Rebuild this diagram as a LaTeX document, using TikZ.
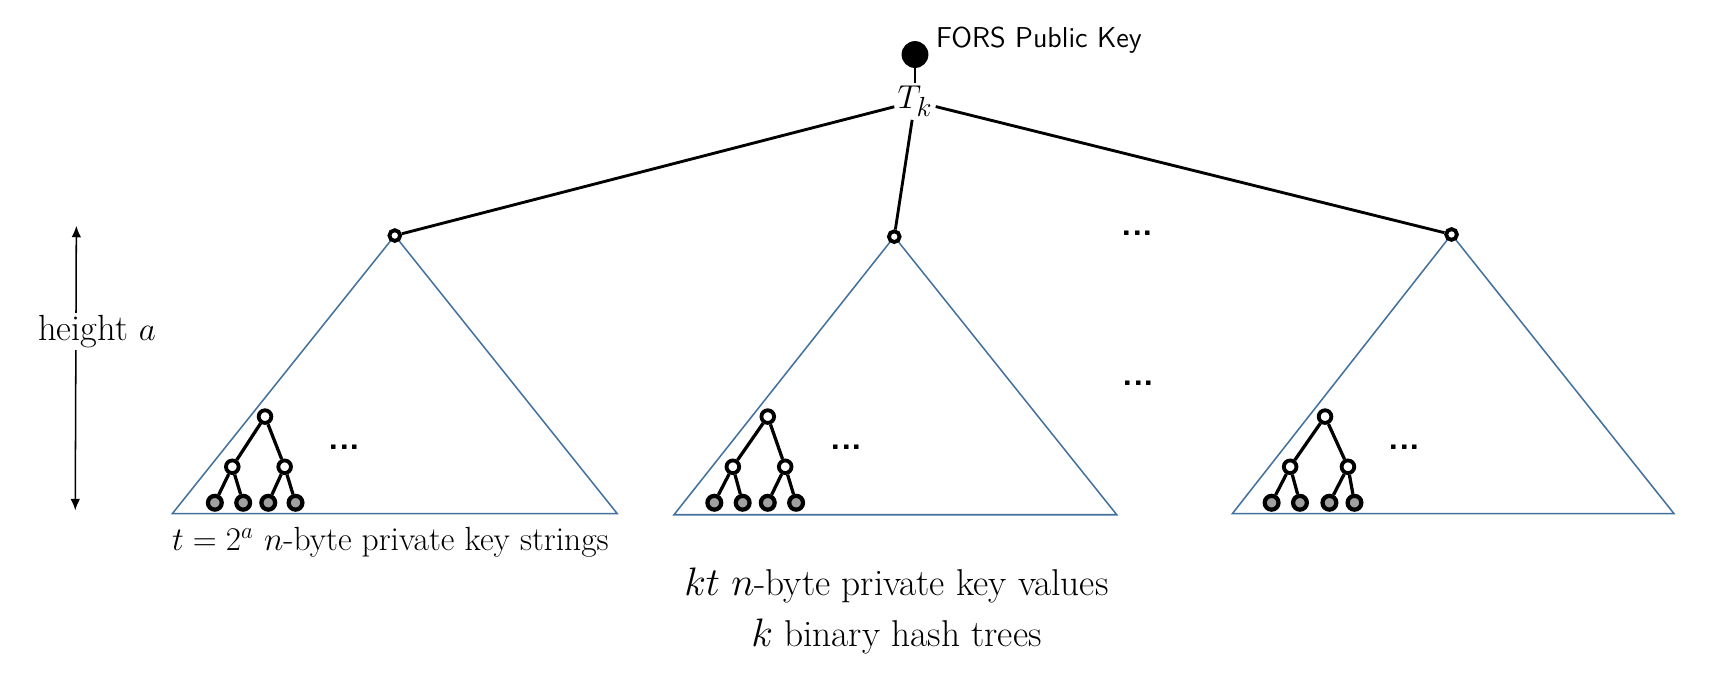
\documentclass[tikz,border=0pt]{standalone}
\usetikzlibrary{arrows.meta}
\definecolor{triblue}{RGB}{65,113,156}
\definecolor{leafgray}{RGB}{160,160,160}
\begin{document}
\begin{tikzpicture}[x=0.02cm,y=-0.02cm,
  tri/.style={draw=triblue, line width=0.8pt, line join=miter},
  edge/.style={line width=1.5pt},
  sedge/.style={line width=1.7pt},
  troot/.style={circle, draw, fill=white, line width=2pt, minimum size=5.6pt, inner sep=0pt},
  inode/.style={circle, draw, fill=white, line width=2pt, minimum size=6.6pt, inner sep=0pt},
  leaf/.style={circle, draw, fill=leafgray, line width=2.2pt, minimum size=7.2pt, inner sep=0pt},
  dots/.style={font=\fontsize{18}{20}\sffamily\bfseries, inner sep=0pt},
  txt/.style={inner sep=1pt},
]
\useasboundingbox (0,0) rectangle (1568,626);

% triangles
\draw[tri] (362,216) -- (158,471) -- (566,471) -- cycle;
\draw[tri] (820,217) -- (618,472) -- (1024,472) -- cycle;
\draw[tri] (1331,215) -- (1130,471) -- (1535,471) -- cycle;

% top
\node[circle, fill=black, minimum size=14pt, inner sep=0pt] (pk) at (839,50) {};
\node[anchor=west, font=\fontsize{15}{18}\sffamily, inner sep=0pt] (pkl) at (858,37) {FORS Public Key};
\node[fill=white, inner sep=1.5pt, font=\fontsize{19}{22}\selectfont] (Tk) at (839,93) {$T_k$};

\node[troot] (r1) at (362,216) {};
\node[troot] (r2) at (820,217) {};
\node[troot] (r3) at (1331,215) {};

\draw[edge] (pk) -- (Tk);
\draw[edge] (Tk) -- (r1);
\draw[edge] (Tk) -- (r2);
\draw[edge] (Tk) -- (r3);

% subtrees
\foreach \t/\rx/\ax/\bx/\la/\lb/\lc/\ld in {
  a/243/213/261/197/223/246/271,
  b/704/672/720/655/681/704/730,
  c/1215/1183/1236/1166/1192/1219/1242}{
  \node[inode] (\t r) at (\rx,382) {};
  \node[inode] (\t a) at (\ax,428) {};
  \node[inode] (\t b) at (\bx,428) {};
  \node[leaf] (\t 1) at (\la,461) {};
  \node[leaf] (\t 2) at (\lb,461) {};
  \node[leaf] (\t 3) at (\lc,461) {};
  \node[leaf] (\t 4) at (\ld,461) {};
  \draw[sedge] (\t r) -- (\t a);
  \draw[sedge] (\t r) -- (\t b);
  \draw[sedge] (\t a) -- (\t 1);
  \draw[sedge] (\t a) -- (\t 2);
  \draw[sedge] (\t b) -- (\t 3);
  \draw[sedge] (\t b) -- (\t 4);
}

% dots
\node[dots] (d1) at (316,410) {...};
\node[dots] (d2) at (776,410) {...};
\node[dots] (d3) at (1288,410) {...};
\node[dots] (d4) at (1043,214) {...};
\node[dots] (d5) at (1044,351) {...};

% height arrow
\coordinate (at) at (70,207);
\coordinate (ab) at (69,468);
\draw[line width=0.8pt, {Latex[length=6pt,width=5pt]}-{Latex[length=6pt,width=5pt]}] (at) -- (ab);
\node[txt, fill=white, font=\fontsize{19}{22}\selectfont] (hl) at (89,304) {height $a$};

% texts
\node[txt, font=\fontsize{17.5}{21}\selectfont] (t1) at (358,497) {$t = 2^a$ $n$-byte private key strings};
\node[txt, font=\fontsize{19.5}{23}\selectfont] (t2) at (822,537) {$kt$ $n$-byte private key values};
\node[txt, font=\fontsize{19.5}{23}\selectfont] (t3) at (822,584) {$k$ binary hash trees};
\end{tikzpicture}
\end{document}
